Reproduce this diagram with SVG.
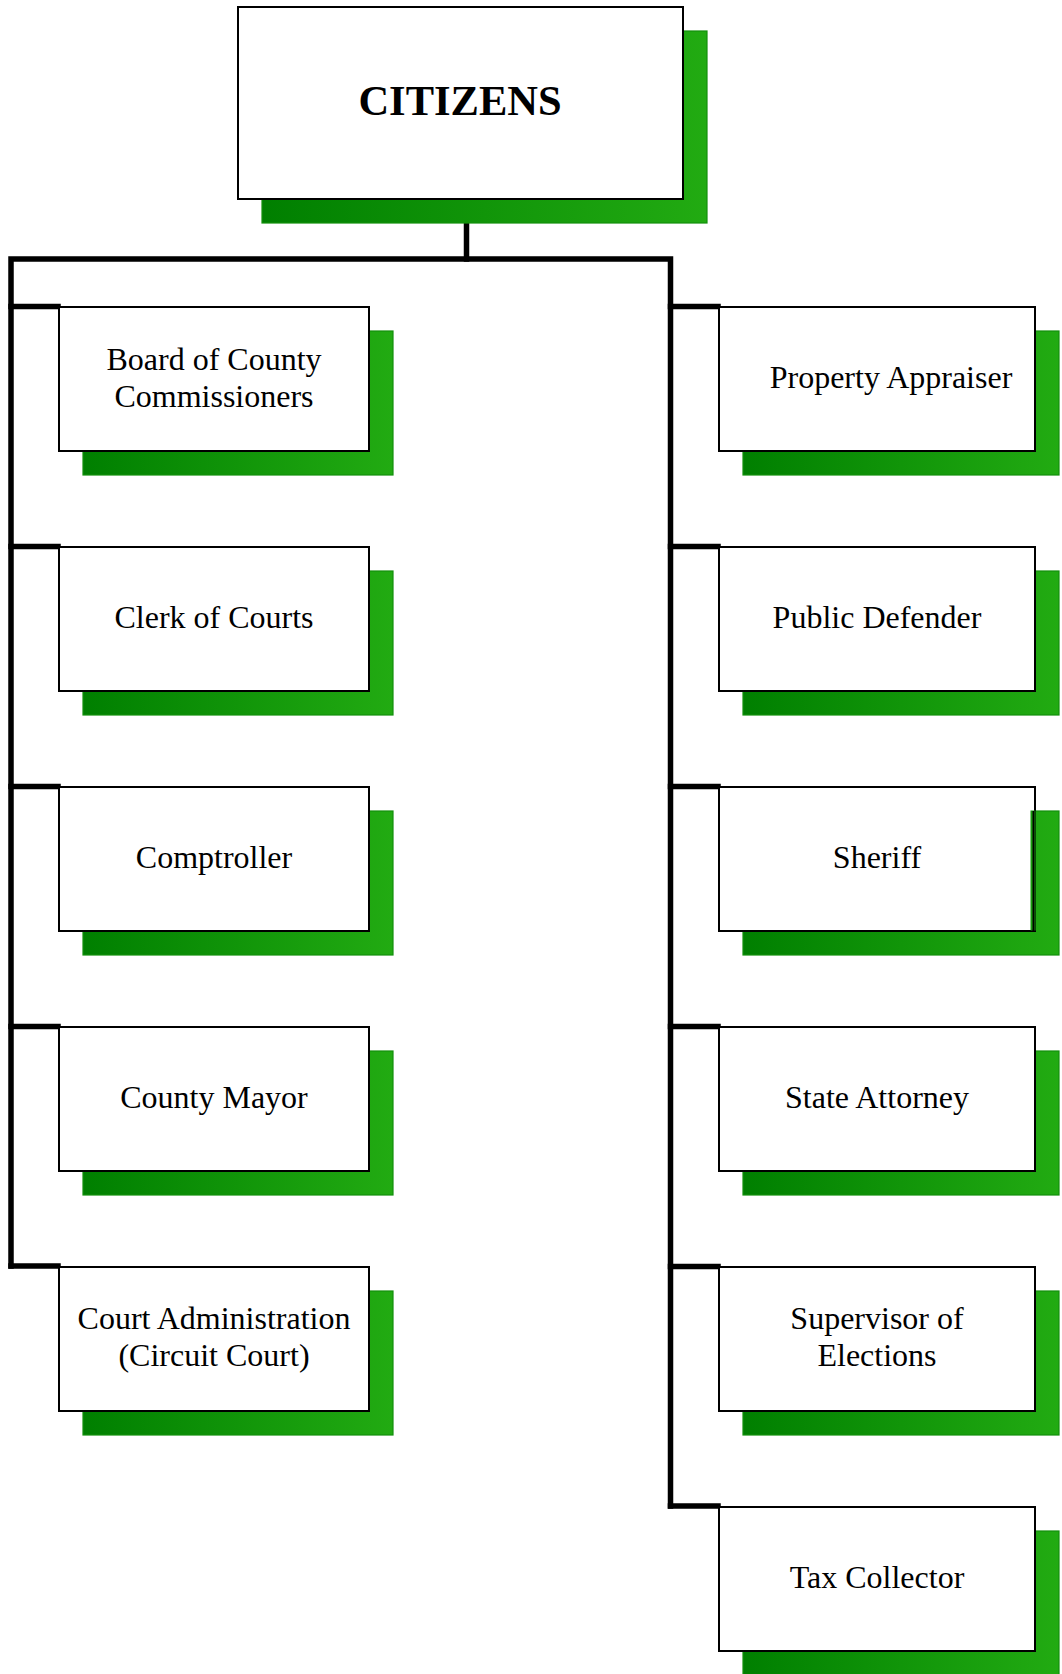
<svg xmlns="http://www.w3.org/2000/svg" width="1062" height="1674" viewBox="0 0 1062 1674">
<defs>
<linearGradient id="g" x1="0" y1="0" x2="1" y2="0">
<stop offset="0" stop-color="#007f00"/>
<stop offset="1" stop-color="#22ab12"/>
</linearGradient>
<style>
.sh{fill:url(#g);stroke:#13900c;stroke-width:1.2}
.bx{fill:#fff;stroke:#000;stroke-width:2}
.t{font-family:"Liberation Serif","Times New Roman",serif;font-size:32px;fill:#000;text-anchor:middle}
.ct{font-family:"Liberation Serif","Times New Roman",serif;font-size:42.5px;font-weight:bold;fill:#000;text-anchor:middle}
.c{fill:none;stroke:#000;stroke-width:5.5;stroke-linejoin:miter;stroke-linecap:square}
</style>
</defs>
<rect width="1062" height="1674" fill="#fff"/>
<g id="connectors">
<path class="c" d="M466.5 223 V259"/>
<path class="c" d="M11 1266 V259 H670.5 V1506"/>
<path class="c" d="M11 306.5 H58 M11 546.5 H58 M11 786.5 H58 M11 1026.5 H58 M11 1266 H58"/>
<path class="c" d="M670.5 306.5 H718 M670.5 546.5 H718 M670.5 786.5 H718 M670.5 1026.5 H718 M670.5 1266.5 H718 M670.5 1506 H718"/>
</g>
<g id="citizens">
<rect class="sh" x="262" y="31" width="445" height="192"/>
<rect class="bx" x="238" y="7" width="445" height="192"/>
<text class="ct" x="460" y="115">CITIZENS</text>
</g>
<g id="board">
<rect class="sh" x="83" y="331" width="310" height="144"/>
<rect class="bx" x="59" y="307" width="310" height="144"/>
<text class="t" x="214" y="370">Board of County</text>
<text class="t" x="214" y="407">Commissioners</text>
</g>
<g id="clerk">
<rect class="sh" x="83" y="571" width="310" height="144"/>
<rect class="bx" x="59" y="547" width="310" height="144"/>
<text class="t" x="214" y="628">Clerk of Courts</text>
</g>
<g id="comptroller">
<rect class="sh" x="83" y="811" width="310" height="144"/>
<rect class="bx" x="59" y="787" width="310" height="144"/>
<text class="t" x="214" y="868">Comptroller</text>
</g>
<g id="mayor">
<rect class="sh" x="83" y="1051" width="310" height="144"/>
<rect class="bx" x="59" y="1027" width="310" height="144"/>
<text class="t" x="214" y="1108">County Mayor</text>
</g>
<g id="courtadmin">
<rect class="sh" x="83" y="1291" width="310" height="144"/>
<rect class="bx" x="59" y="1267" width="310" height="144"/>
<text class="t" x="214" y="1329">Court Administration</text>
<text class="t" x="214" y="1366">(Circuit Court)</text>
</g>
<g id="appraiser">
<rect class="sh" x="743" y="331" width="316" height="144"/>
<rect class="bx" x="719" y="307" width="316" height="144"/>
<text class="t" x="891" y="388">Property Appraiser</text>
</g>
<g id="defender">
<rect class="sh" x="743" y="571" width="316" height="144"/>
<rect class="bx" x="719" y="547" width="316" height="144"/>
<text class="t" x="877" y="628">Public Defender</text>
</g>
<g id="sheriff">
<rect class="sh" x="743" y="811" width="316" height="144"/>
<rect class="bx" x="719" y="787" width="316" height="144"/>
<rect x="1031" y="811" width="4" height="119" fill="#21a811" stroke="#13900c" stroke-width="1"/>
<line x1="1033.5" y1="811" x2="1033.5" y2="931" stroke="#000" stroke-width="2"/>
<text class="t" x="877" y="868">Sheriff</text>
</g>
<g id="attorney">
<rect class="sh" x="743" y="1051" width="316" height="144"/>
<rect class="bx" x="719" y="1027" width="316" height="144"/>
<text class="t" x="877" y="1108">State Attorney</text>
</g>
<g id="elections">
<rect class="sh" x="743" y="1291" width="316" height="144"/>
<rect class="bx" x="719" y="1267" width="316" height="144"/>
<text class="t" x="877" y="1329">Supervisor of</text>
<text class="t" x="877" y="1366">Elections</text>
</g>
<g id="taxcollector">
<rect class="sh" x="743" y="1531" width="316" height="144"/>
<rect class="bx" x="719" y="1507" width="316" height="144"/>
<text class="t" x="877" y="1588">Tax Collector</text>
</g>
</svg>
